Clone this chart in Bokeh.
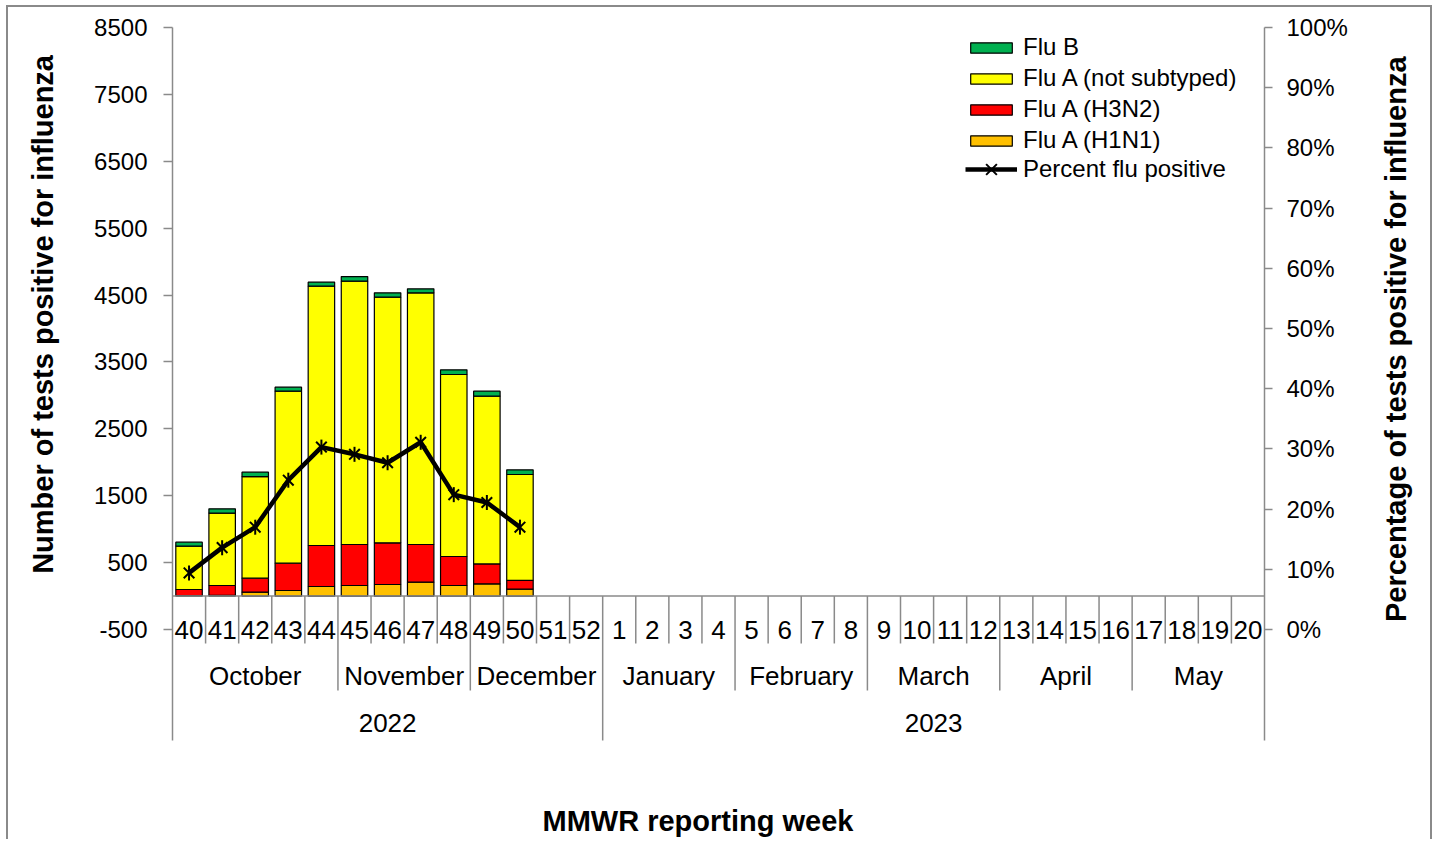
from math import pi
from bokeh.plotting import figure
from bokeh.layouts import row
from bokeh.models import (Range1d, LinearAxis, FixedTicker, PrintfTickFormatter,
                          Legend, LegendItem, ColumnDataSource)
from bokeh.core.properties import value
from bokeh.embed import file_html
from bokeh.resources import INLINE

# ---------------- data ----------------
weeks = ["40", "41", "42", "43", "44", "45", "46", "47", "48", "49", "50", "51", "52",
         "1", "2", "3", "4", "5", "6", "7", "8", "9", "10", "11", "12",
         "13", "14", "15", "16", "17", "18", "19", "20"]
months = ["October", "November", "December", "January", "February", "March", "April", "May"]
month_weeks = [5, 4, 4, 4, 4, 4, 4, 4]
years = ["2022", "2023"]
year_weeks = [13, 20]

data_weeks = ["40", "41", "42", "43", "44", "45", "46", "47", "48", "49", "50"]
flu_a_h1n1 = [8, 12, 58, 83, 143, 158, 173, 208, 158, 182, 103]
flu_a_h3n2 = [90, 146, 210, 408, 613, 613, 623, 563, 433, 299, 130]
flu_a_nst = [648, 1082, 1519, 2572, 3877, 3937, 3672, 3762, 2721, 2507, 1584]
flu_b = [60, 64, 65, 60, 60, 69, 65, 60, 70, 75, 70]
pct_positive = [9.4, 13.6, 17.0, 24.8, 30.3, 29.1, 27.7, 31.1, 22.4, 21.1, 17.0]

left_ticks = [-500, 500, 1500, 2500, 3500, 4500, 5500, 6500, 7500, 8500]
right_ticks = [0, 10, 20, 30, 40, 50, 60, 70, 80, 90, 100]

y_title = "Number of tests positive for influenza"
y2_title = "Percentage  of  tests  positive for influenza"
x_title = "MMWR reporting week"

# ---------------- styles / layout ----------------
FONT = "Liberation Sans"
FS = "24px"        # value-axis ticks and legend
FS_CAT = "26px"    # category labels
FS_TITLE = "29px"  # axis titles
AXIS_GREY = "#8a8a8a"
C_H1N1, C_H3N2, C_NST, C_B = "#FFC000", "#FF0000", "#FFFF00", "#00B050"

H = 834                       # canvas height
LW, MW, RW = 64, 1303, 55     # widths of left title strip, main chart, right title strip
TOP = 20                      # space above plot frame
PX_PER_UNIT = 602 / 9000.0    # vertical scale of the value axis
Y_MAX = left_ticks[-1]
Y_MIN = Y_MAX - (H - TOP) / PX_PER_UNIT          # frame runs to canvas bottom
AXIS_LOW = left_ticks[0] - 111 / PX_PER_UNIT     # where the axis lines stop (bottom of category band)
PCT_PER_UNIT = 100.0 / (Y_MAX - left_ticks[0])


def to_pct(v):
    return (v - left_ticks[0]) * PCT_PER_UNIT


idx = {w: i for i, w in enumerate(weeks)}
n = len(weeks)

p = figure(width=MW, height=H, output_backend="svg", toolbar_location=None,
           x_range=Range1d(0, n), y_range=Range1d(Y_MIN, Y_MAX),
           x_axis_location=None, min_border_left=100, min_border_right=111,
           min_border_top=TOP, min_border_bottom=0)
p.grid.visible = False
p.outline_line_color = None
p.background_fill_color = "white"
p.border_fill_color = "white"

# left axis
ya = p.yaxis[0]
ya.ticker = FixedTicker(ticks=left_ticks)
ya.formatter = PrintfTickFormatter(format="%d")
ya.bounds = (AXIS_LOW, Y_MAX)
ya.minor_tick_line_color = None
ya.major_tick_in = 0
ya.major_tick_out = 9
ya.axis_line_color = AXIS_GREY
ya.axis_line_width = 1.5
ya.major_tick_line_color = AXIS_GREY
ya.major_tick_line_width = 1.5
ya.major_label_text_font = FONT
ya.major_label_text_font_size = FS
ya.major_label_text_color = "black"
ya.major_label_standoff = 16

# right axis
p.extra_y_ranges = {"pct": Range1d(to_pct(Y_MIN), to_pct(Y_MAX))}
ra = LinearAxis(y_range_name="pct", ticker=FixedTicker(ticks=right_ticks),
                formatter=PrintfTickFormatter(format="%d%%"),
                bounds=(to_pct(AXIS_LOW), to_pct(Y_MAX)))
ra.minor_tick_line_color = None
ra.major_tick_in = 0
ra.major_tick_out = 8
ra.axis_line_color = AXIS_GREY
ra.axis_line_width = 1.5
ra.major_tick_line_color = AXIS_GREY
ra.major_tick_line_width = 1.5
ra.major_label_text_font = FONT
ra.major_label_text_font_size = FS
ra.major_label_text_color = "black"
ra.major_label_standoff = 14
p.add_layout(ra, "right")

# ---------------- bars ----------------
src = ColumnDataSource(dict(
    x=[idx[w] + 0.5 for w in data_weeks],
    h1n1=flu_a_h1n1, h3n2=flu_a_h3n2, nst=flu_a_nst, fluB=flu_b,
))
bars = p.vbar_stack(["h1n1", "h3n2", "nst", "fluB"], x="x", width=0.8, source=src,
                    fill_color=[C_H1N1, C_H3N2, C_NST, C_B],
                    line_color="black", line_width=1.2)

# ---------------- category axis ----------------
WEEK_LINE_END = -709
MONTH_LINE_END = -1412
WEEK_LABEL_Y = -500
MONTH_LABEL_Y = -1188
YEAR_LABEL_Y = -1891

p.segment(x0=[0], y0=[0], x1=[n], y1=[0], line_color=AXIS_GREY, line_width=1.5)

month_bounds = [0]
for c in month_weeks:
    month_bounds.append(month_bounds[-1] + c)
year_bounds = [0]
for c in year_weeks:
    year_bounds.append(year_bounds[-1] + c)

week_sep = [i for i in range(1, n) if i not in month_bounds]
month_sep = [b for b in month_bounds[1:-1] if b not in year_bounds]
year_sep = year_bounds[1:-1]

p.segment(x0=week_sep, y0=[0] * len(week_sep), x1=week_sep, y1=[WEEK_LINE_END] * len(week_sep),
          line_color=AXIS_GREY, line_width=1.5)
p.segment(x0=month_sep, y0=[0] * len(month_sep), x1=month_sep, y1=[MONTH_LINE_END] * len(month_sep),
          line_color=AXIS_GREY, line_width=1.5)
p.segment(x0=year_sep, y0=[0] * len(year_sep), x1=year_sep, y1=[AXIS_LOW] * len(year_sep),
          line_color=AXIS_GREY, line_width=1.5)

base = dict(text_font=value(FONT), text_color="black", text_align="center", text_baseline="middle")
cat = dict(text_font_size=value(FS_CAT), **base)
ttl = dict(text_font_size=value(FS_TITLE), text_font_style="bold", **base)

p.text(x=[i + 0.5 for i in range(n)], y=[WEEK_LABEL_Y] * n, text=weeks, **cat)
p.text(x=[(month_bounds[i] + month_bounds[i + 1]) / 2 for i in range(len(months))],
       y=[MONTH_LABEL_Y] * len(months), text=months, **cat)
p.text(x=[(year_bounds[i] + year_bounds[i + 1]) / 2 for i in range(len(years))],
       y=[YEAR_LABEL_Y] * len(years), text=years, **cat)

# x axis title (inside the extended frame, below the category band)
p.text(x=[15.88], y=[-3370], text=[x_title], **ttl)

# ---------------- percent line ----------------
lsrc = ColumnDataSource(dict(x=[idx[w] + 0.5 for w in data_weeks], y=pct_positive))
ln = p.line("x", "y", source=lsrc, y_range_name="pct", line_color="black", line_width=4.5)
mk1 = p.scatter("x", "y", source=lsrc, y_range_name="pct", marker="x", size=15,
                line_color="black", line_width=2)
mk2 = p.scatter("x", "y", source=lsrc, y_range_name="pct", marker="dash", angle=pi / 2,
                size=15, line_color="black", line_width=2)

# ---------------- legends ----------------
leg_style = dict(padding=0, margin=0, spacing=3, glyph_width=52, label_standoff=6,
                 label_text_font=FONT, label_text_font_size=FS, label_text_color="black",
                 border_line_color=None, background_fill_alpha=0)
legend1 = Legend(items=[
    LegendItem(label="Flu B", renderers=[bars[3]]),
    LegendItem(label="Flu A (not subtyped)", renderers=[bars[2]]),
    LegendItem(label="Flu A (H3N2)", renderers=[bars[1]]),
    LegendItem(label="Flu A (H1N1)", renderers=[bars[0]]),
], location=(793, 687), glyph_height=13, label_height=28, **leg_style)
legend2 = Legend(items=[
    LegendItem(label="Percent flu positive", renderers=[ln, mk1, mk2]),
], location=(793, 653), glyph_height=38, label_height=28, **leg_style)
p.add_layout(legend1, "center")
p.add_layout(legend2, "center")


# ---------------- side strips holding the vertical axis titles ----------------
def strip(width):
    f = figure(width=width, height=H, output_backend="svg", toolbar_location=None,
               x_range=Range1d(0, width), y_range=Range1d(H, 0),
               x_axis_location=None, y_axis_location=None,
               min_border_left=0, min_border_right=0, min_border_top=0, min_border_bottom=0)
    f.grid.visible = False
    f.outline_line_color = None
    f.background_fill_color = "white"
    f.border_fill_color = "white"
    return f


lf = strip(LW)
lf.text(x=[34], y=[294], text=[y_title], angle=pi / 2, **ttl)
rf = strip(RW)
rf.text(x=[20], y=[307], text=[y2_title], angle=pi / 2, **ttl)

layout = row(lf, p, rf, spacing=0)
layout.styles = {"margin-left": "8px", "margin-top": "7px",
                 "box-shadow": f"-2px -2px 0 0 {AXIS_GREY}, 2px -2px 0 0 {AXIS_GREY}"}

open("out.html", "w").write(file_html(layout, INLINE))
